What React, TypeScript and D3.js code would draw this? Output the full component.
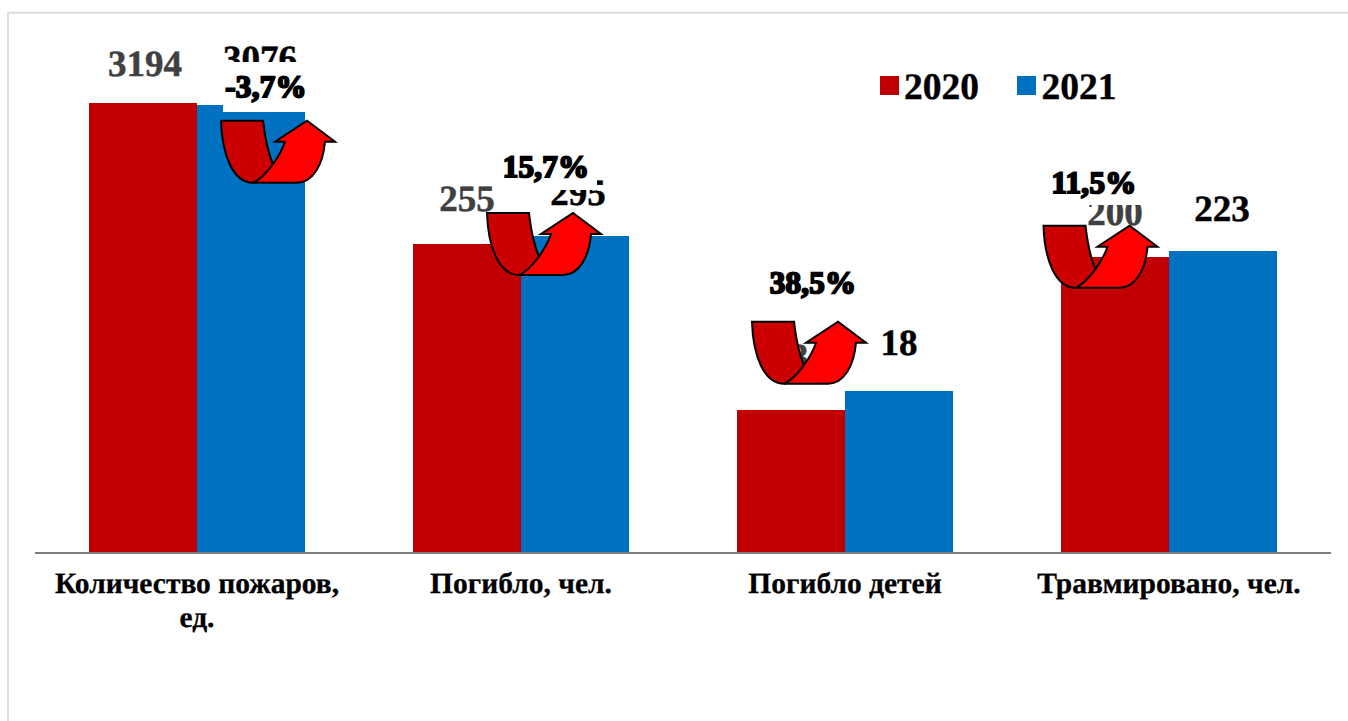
import React from "react";
import * as d3 from "d3";

const categories = ["Количество пожаров,|ед.", "Погибло, чел.", "Погибло детей", "Травмировано, чел."];
const labels2020 = ["3194", "255", "13", "200"];
const labels2021 = ["3076", "295", "18", "223"];
// bar lengths as drawn (each indicator is on its own visual scale)
const drawn2020 = [449, 308, 142, 295];
const drawn2021 = [447, 316, 161, 301];
const changes = ["-3,7%", "15,7%", "38,5%", "11,5%"];
const series = ["2020", "2021"];
const colors = ["#C00000", "#0070C0"];

const W = 1348, H = 721;
const x = d3.scaleBand<number>().domain([0, 1, 2, 3]).range([35, 1331]).paddingInner(0.5).paddingOuter(0.25);
const y = d3.scaleLinear().domain([0, 500]).range([552, 52]);
const FONT = "'Liberation Serif','Times New Roman',serif";

const Arrow = ({ px, py }: { px: number; py: number }) => (
  <g transform={`translate(${px},${py})`} stroke="#000" strokeWidth={2} strokeLinejoin="miter">
    <path d="M0,0 H42 C44,18 47,32 52,44 L50,56 L32,62 C12,62 1,34 0,0 Z" fill="#CC0000" />
    <path d="M32,62 C46,56 60,33 64,21 L54,21 L86,0 L114,21 L104,21 C102,44 92,62 76,62 Z" fill="#FF0000" />
  </g>
);

const Pct = ({ cx, cy, t }: { cx: number; cy: number; t: string }) => (
  <text x={cx} y={cy} textAnchor="middle" fontFamily={FONT} fontWeight="bold" fontSize={31} letterSpacing={0.3}
    fill="#000" stroke="#000" strokeWidth={2} textRendering="geometricPrecision">{t}</text>
);

const numStyle = { fontFamily: FONT, fontWeight: "bold", fontSize: 37, textAnchor: "middle", strokeWidth: 0.5, textRendering: "geometricPrecision" } as const;

const redLabels = [[145, 76], [467, 211], [790, 369], [1115, 225]];
const blueLabels = [[260, 71], [578, 205], [899, 355], [1222, 221]];
const pctPos = [[266, 97], [546, 177], [813, 293], [1094, 193]];
const arrowPos = [[221, 120.7], [487, 213], [752, 321.7], [1043.5, 225.7]];
const masks = [[223, 62, 84, 50], [500, 150, 97, 40], [765, 265, 95, 40], [1045, 165, 105, 40]];

export default function App() {
  const bw = x.bandwidth();
  return (
    <svg width={W} height={H} viewBox={`0 0 ${W} ${H}`} style={{ position: "absolute", left: 0, top: 0, background: "#fff" }}>
      <path d="M8,721 V12.7 H1348" fill="none" stroke="#DDDDDD" strokeWidth={2} />
      <line x1={35} x2={1331} y1={553} y2={553} stroke="#7F7F7F" strokeWidth={2} />
      {categories.map((c, i) => {
        const cx = x(i)! + bw / 2;
        return (
          <g key={c}>
            <rect x={cx - 108} width={108} y={y(drawn2020[i])} height={y(0) - y(drawn2020[i])} fill={colors[0]} />
            <rect x={cx} width={108} y={y(drawn2021[i])} height={y(0) - y(drawn2021[i])} fill={colors[1]} />
          </g>
        );
      })}
      {labels2020.map((t, i) => (
        <text key={t} x={redLabels[i][0]} y={redLabels[i][1]} {...numStyle} fill="#404040" stroke="#404040">{t}</text>
      ))}
      {labels2021.map((t, i) => (
        <text key={t} x={blueLabels[i][0]} y={blueLabels[i][1]} {...numStyle} fill="#000" stroke="#000">{t}</text>
      ))}
      {masks.map((m, i) => <rect key={i} x={m[0]} y={m[1]} width={m[2]} height={m[3]} fill="#fff" />)}
      {changes.map((t, i) => <Pct key={t} cx={pctPos[i][0]} cy={pctPos[i][1]} t={t} />)}
      {arrowPos.map((p, i) => <Arrow key={i} px={p[0]} py={p[1]} />)}
      {categories.map((c, i) => (
        <text key={c} textAnchor="middle" fontFamily={FONT} fontWeight="bold" fontSize={29.5} fill="#000" stroke="#000" strokeWidth={0.3} textRendering="geometricPrecision">
          {c.split("|").map((ln, k) => (
            <tspan key={k} x={x(i)! + bw / 2} y={593 + k * 34}>{ln}</tspan>
          ))}
        </text>
      ))}
      {series.map((s, i) => (
        <g key={s}>
          <rect x={880 + i * 137} y={76} width={19} height={19} fill={colors[i]} />
          <text x={904 + i * 137.5} y={99} fontFamily={FONT} fontWeight="bold" fontSize={37.5} fill="#000" stroke="#000" strokeWidth={0.4} textRendering="geometricPrecision">{s}</text>
        </g>
      ))}
    </svg>
  );
}
